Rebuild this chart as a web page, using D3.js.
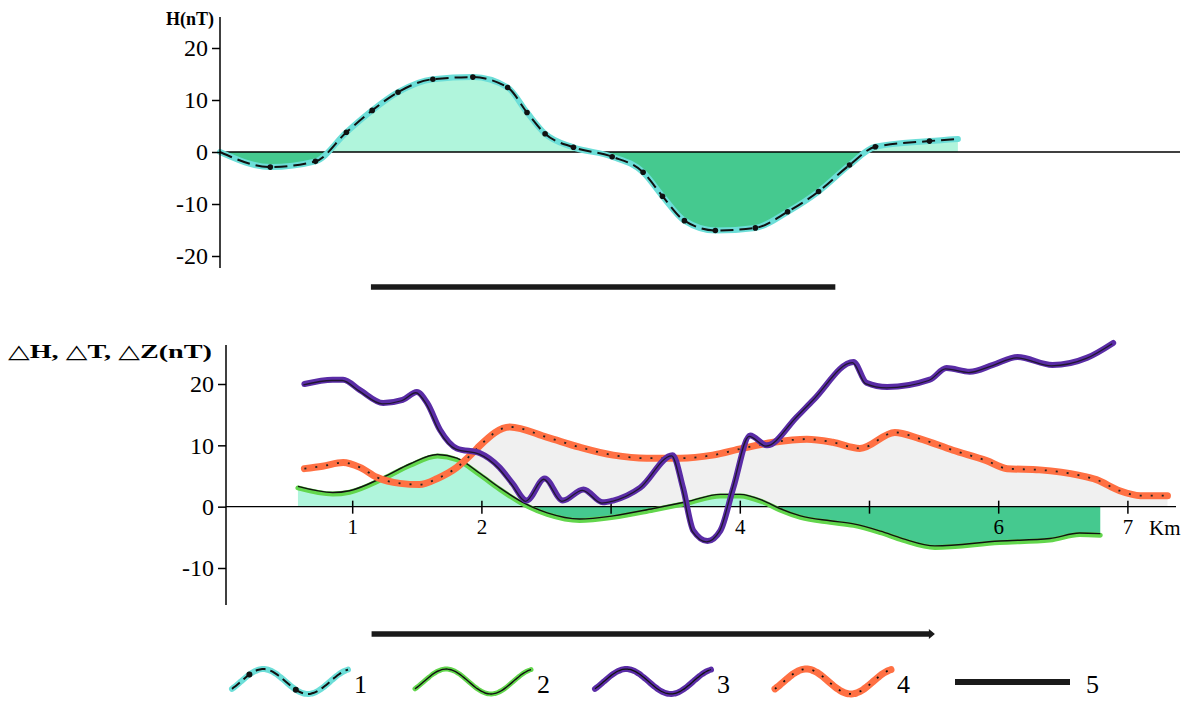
<!DOCTYPE html>
<html><head><meta charset="utf-8">
<script src="https://d3js.org/d3.v7.min.js"></script>
<style>body{margin:0;background:#fff}svg{display:block}</style>
</head><body><svg id="c" width="1196" height="702"></svg>
<script>
// ---- data ----
const hProfile = [[0,0],[0.39,-2.9],[0.74,-1.8],[0.98,3.8],[1.18,8],[1.38,11.5],[1.65,14],[1.96,14.4],[2.23,12.4],[2.38,7.6],[2.52,3.5],[2.74,0.9],[3.04,-0.9],[3.28,-3.9],[3.43,-8.5],[3.60,-13.2],[3.84,-15.1],[4.15,-14.6],[4.40,-11.5],[4.64,-7.6],[4.88,-2.5],[5.08,1],[5.50,2.1],[5.72,2.5]];
const dH = [[0.58,3.3],[0.85,2.3],[0.98,2.6],[1.24,4.8],[1.45,7],[1.66,8.5],[1.81,7.9],[1.99,5.4],[2.14,3.1],[2.32,0.7],[2.51,-1],[2.76,-2],[3.02,-1.5],[3.33,-0.3],[3.59,0.8],[3.85,2],[4.00,2],[4.18,1],[4.31,-0.3],[4.47,-1.5],[4.70,-2.3],[4.88,-2.8],[5.09,-4],[5.26,-5.2],[5.51,-6.4],[6.01,-5.6],[6.40,-5.2],[6.63,-4.3],[6.79,-4.4]];
const dZ = [[0.63,20],[0.85,20.7],[0.93,20.7],[1.06,19],[1.24,16.9],[1.39,17.4],[1.50,18.7],[1.58,16.9],[1.68,12.5],[1.81,9.5],[1.99,8.7],[2.14,6.4],[2.24,3.8],[2.35,1],[2.49,4.6],[2.63,1],[2.79,2.8],[2.94,0.7],[3.02,1],[3.23,3.1],[3.48,8.4],[3.56,3.1],[3.64,-3.9],[3.75,-5.6],[3.85,-3.9],[3.95,3.1],[4.08,11.6],[4.21,10],[4.44,14.6],[4.57,17.4],[4.88,23.6],[4.98,20.2],[5.14,19.5],[5.47,20.7],[5.60,22.6],[5.78,22],[5.96,23.1],[6.15,24.4],[6.42,23.1],[6.69,24.3],[6.89,26.7]];
const dT = [[0.63,6.2],[0.77,6.6],[0.93,7.2],[1.06,6.4],[1.19,4.8],[1.37,3.8],[1.52,3.6],[1.66,4.6],[1.81,6.4],[1.93,8.7],[1.99,10],[2.22,13],[2.51,11.3],[2.76,9.7],[3.02,8.4],[3.28,7.9],[3.54,7.9],[3.79,8.4],[4.02,9.5],[4.26,10.5],[4.52,11],[4.72,10.5],[4.93,9.5],[5.20,12.1],[5.39,11.1],[5.65,9.2],[5.91,7.5],[6.07,6.2],[6.32,6],[6.63,5.1],[6.76,4.4],[6.94,2.6],[7.10,1.8],[7.31,1.8]];
const grayStartKm = 1.9;
const topBar = [1.17, 4.77];
const bottomBar = [1.15, 5.51];
const topTicks = [20,10,0,-10,-20];
const botTicks = [20,10,0,-10];
const kmTicks = [1,2,3,4,5,6,7];
const kmLabels = ["1","2","","4","","6","7"];
const legendLabels = ["1","2","3","4","5"];

// ---- colours ----
const C = {pos:"#b0f5dc", neg:"#45c98f", cyan:"#6cded8", green:"#62d64c", purple:"#5a2ca6", orange:"#ff7043", gray:"#f0f0f0"};
const svg = d3.select("#c");
const serif = "'Liberation Serif', 'DejaVu Serif', serif";

// ---- scales ----
const xTop = d3.scaleLinear().domain([0,7.5]).range([220, 220+7.5*129]);
const yTop = d3.scaleLinear().domain([-20,20]).range([256,48]);
const xB = d3.scaleLinear().domain([0,7.5]).range([223, 223+7.5*129.2]);
const yB = d3.scaleLinear().domain([-10,20]).range([568,384]);

const defs = svg.append("defs");
function clip(id, x, y, w, h){ defs.append("clipPath").attr("id",id).append("rect").attr("x",x).attr("y",y).attr("width",w).attr("height",h); }
clip("topPos",0,0,1196,yTop(0)); clip("topNeg",0,yTop(0),1196,300);
clip("botPos",0,300,1196,yB(0)-300); clip("botNeg",0,yB(0),1196,200);
clip("grayClip",xB(grayStartKm),300,1196,yB(0)-300);

const curve = d3.curveMonotoneX;

// ---- top chart ----
const gT = svg.append("g");
const areaT = d3.area().x(d=>xTop(d[0])).y0(yTop(0)).y1(d=>yTop(d[1])).curve(curve);
gT.append("path").datum(hProfile).attr("d",areaT).attr("fill",C.pos).attr("clip-path","url(#topPos)");
gT.append("path").datum(hProfile).attr("d",areaT).attr("fill",C.neg).attr("clip-path","url(#topNeg)");
gT.append("line").attr("x1",xTop(0)).attr("x2",1180).attr("y1",yTop(0)).attr("y2",yTop(0)).attr("stroke","#000").attr("stroke-width",1.3);
const lineT = d3.line().x(d=>xTop(d[0])).y(d=>yTop(d[1])).curve(curve);
gT.append("path").datum(hProfile).attr("d",lineT).attr("fill","none").attr("stroke",C.cyan).attr("stroke-width",6).attr("stroke-linecap","round");
gT.append("path").datum(hProfile).attr("d",lineT).attr("fill","none").attr("stroke","#111").attr("stroke-width",2).attr("stroke-dasharray","13,6");
gT.selectAll("circle").data(hProfile.slice(1,-1)).join("circle").attr("cx",d=>xTop(d[0])).attr("cy",d=>yTop(d[1])).attr("r",2.8).attr("fill","#111");

const axT = gT.append("g").attr("transform",`translate(${xTop(0)},0)`)
  .call(d3.axisLeft(yTop).tickValues(topTicks).tickFormat(d=>String(d)).tickSize(8).tickSizeOuter(0));
axT.select(".domain").remove();
axT.append("line").attr("x1",0).attr("x2",0).attr("y1",17).attr("y2",268).attr("stroke","#000").attr("stroke-width",1.5);
axT.selectAll(".tick line").attr("stroke-width",1.5);
axT.selectAll("text").attr("font-family",serif).attr("font-size",24).attr("fill","#000").attr("dx",-1);
svg.append("text").attr("x",214).attr("y",25).attr("text-anchor","end").attr("font-family",serif).attr("font-weight","bold").attr("font-size",18).text("H(nT)");

svg.append("line").attr("x1",xTop(topBar[0])).attr("x2",xTop(topBar[1])).attr("y1",287).attr("y2",287).attr("stroke","#1a1a1a").attr("stroke-width",5.5);

// ---- bottom chart ----
const gB = svg.append("g");
const areaTB = d3.area().x(d=>xB(d[0])).y0(yB(0)).y1(d=>yB(d[1])).curve(curve);
gB.append("path").datum(dT).attr("d",areaTB).attr("fill",C.gray).attr("clip-path","url(#grayClip)");
gB.append("path").datum(dH).attr("d",areaTB).attr("fill",C.pos).attr("clip-path","url(#botPos)");
gB.append("path").datum(dH).attr("d",areaTB).attr("fill",C.neg).attr("clip-path","url(#botNeg)");

const axX = gB.append("g").attr("transform",`translate(0,${yB(0)})`)
  .call(d3.axisBottom(xB).tickValues(kmTicks).tickFormat((d,i)=>kmLabels[i]).tickSize(6).tickSizeOuter(0));
axX.select(".domain").remove();
axX.append("line").attr("x1",226).attr("x2",1176).attr("stroke","#000").attr("stroke-width",1.3);
axX.selectAll(".tick line").attr("y1",-6).attr("y2",7).attr("stroke-width",1.5);
axX.selectAll("text").attr("font-family",serif).attr("font-size",21).attr("fill","#000").attr("y",12);
svg.append("text").attr("x",1149).attr("y",535).attr("font-family",serif).attr("font-size",21).text("Km");

const lineB = d3.line().x(d=>xB(d[0])).y(d=>yB(d[1])).curve(curve);
gB.append("path").datum(dH).attr("d",lineB).attr("fill","none").attr("stroke",C.green).attr("stroke-width",5).attr("stroke-linecap","round").attr("transform","translate(0,1.5)");
gB.append("path").datum(dH).attr("d",lineB).attr("fill","none").attr("stroke","#111").attr("stroke-width",1.4);
gB.append("path").datum(dT).attr("d",lineB).attr("fill","none").attr("stroke",C.orange).attr("stroke-width",7).attr("stroke-linecap","round");
gB.append("path").datum(dT).attr("d",lineB).attr("fill","none").attr("stroke","#222").attr("stroke-width",1.8).attr("stroke-dasharray","2,9");
gB.append("path").datum(dZ).attr("d",lineB).attr("fill","none").attr("stroke",C.purple).attr("stroke-width",6).attr("stroke-linecap","round").attr("stroke-linejoin","round");
gB.append("path").datum(dZ).attr("d",lineB).attr("fill","none").attr("stroke","#111").attr("stroke-width",1.3).attr("opacity",0.8).attr("transform","translate(-1,0.8)");

const axB = gB.append("g").attr("transform","translate(226,0)")
  .call(d3.axisLeft(yB).tickValues(botTicks).tickFormat(d=>String(d)).tickSize(8).tickSizeOuter(0));
axB.select(".domain").remove();
axB.append("line").attr("x1",0).attr("x2",0).attr("y1",345).attr("y2",605).attr("stroke","#000").attr("stroke-width",1.5);
axB.selectAll(".tick line").attr("stroke-width",1.5);
axB.selectAll("text").attr("font-family",serif).attr("font-size",24).attr("fill","#000").attr("dx",-1);
svg.append("text").attr("x",8).attr("y",358).attr("font-family",serif).attr("font-weight","bold").attr("font-size",19)
  .attr("textLength",204).attr("lengthAdjust","spacingAndGlyphs").text("△H,  △T,  △Z(nT)");

svg.append("line").attr("x1",xB(bottomBar[0])).attr("x2",xB(bottomBar[1])-4).attr("y1",634).attr("y2",634).attr("stroke","#1a1a1a").attr("stroke-width",5.5);
svg.append("path").attr("d",`M${xB(bottomBar[1])-6},629 L${xB(bottomBar[1])},634 L${xB(bottomBar[1])-6},639 Z`).attr("fill","#1a1a1a");

// ---- legend ----
const legX = [232, 415, 595, 775];
const legStyles = [
  {c:C.cyan,w:6,b:2,dash:"10,5"},
  {c:C.green,w:5,b:1.4,dash:null},
  {c:C.purple,w:6,b:1.3,dash:null},
  {c:C.orange,w:7,b:1.8,dash:"2,9"}];
const squig = d3.range(0,1.001,0.02).map(t=>[t, Math.sin(-0.2*Math.PI + t*2.6*Math.PI)]);
const gL = svg.append("g");
legX.forEach((x0,i)=>{
  const sx = d3.scaleLinear().domain([0,1]).range([x0, x0+116]);
  const sy = d3.scaleLinear().domain([-1,1]).range([694,669]);
  const ln = d3.line().x(d=>sx(d[0])).y(d=>sy(d[1])).curve(d3.curveBasis);
  const s = legStyles[i];
  gL.append("path").datum(squig).attr("d",ln).attr("fill","none").attr("stroke",s.c).attr("stroke-width",s.w).attr("stroke-linecap","round");
  gL.append("path").datum(squig).attr("d",ln).attr("fill","none").attr("stroke","#111").attr("stroke-width",s.b).attr("stroke-dasharray",s.dash);
  if(i===0){ [0.15,0.55].forEach(t=>{ const v=Math.sin(-0.2*Math.PI+t*2.6*Math.PI); gL.append("circle").attr("cx",sx(t)).attr("cy",sy(v)).attr("r",3).attr("fill","#111"); }); }
  gL.append("text").attr("x",x0+122).attr("y",693).attr("font-family",serif).attr("font-size",26).text(legendLabels[i]);
});
gL.append("line").attr("x1",955).attr("x2",1070).attr("y1",682).attr("y2",682).attr("stroke","#1a1a1a").attr("stroke-width",6);
gL.append("text").attr("x",1086).attr("y",693).attr("font-family",serif).attr("font-size",26).text(legendLabels[4]);
</script></body></html>
